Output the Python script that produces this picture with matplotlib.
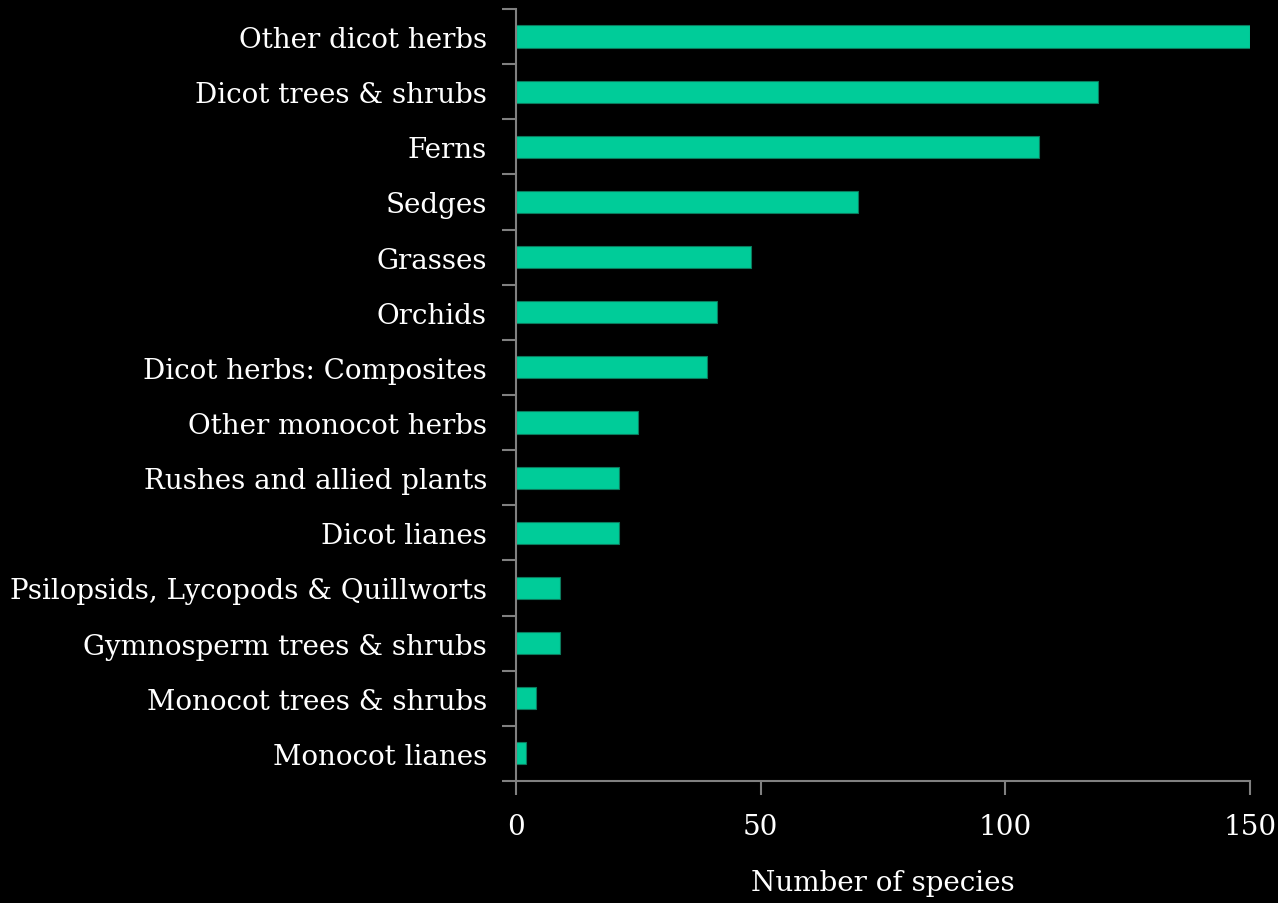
import matplotlib.pyplot as plt
import numpy as np

# datos
categorias = ["Other dicot herbs", "Dicot trees & shrubs", "Ferns", "Sedges",
              "Grasses", "Orchids", "Dicot herbs: Composites",
              "Other monocot herbs", "Rushes and allied plants", "Dicot lianes",
              "Psilopsids, Lycopods & Quillworts", "Gymnosperm trees & shrubs",
              "Monocot trees & shrubs", "Monocot lianes"]
especies = [150, 119, 107, 70, 48, 41, 39, 25, 21, 21, 9, 9, 4, 2]
ticks_x = [0, 50, 100, 150]

plt.rcParams['font.family'] = ['DejaVu Serif']

fig = plt.figure(figsize=(12.78, 9.04), dpi=100, facecolor="black")
ax = fig.add_axes([0.4038, 0.135, 0.5741, 0.854], facecolor="black")

pos = np.arange(len(categorias))[::-1]
ax.barh(pos, especies, height=0.4, color="#00CC99", edgecolor="#0B7A5C", linewidth=0.8)

ax.set_xlim(0, 150)
ax.set_ylim(-0.5, len(categorias) - 0.5)

# etiquetas del eje y sin marca, marcas en los limites de cada categoria
ax.set_yticks(pos)
ax.set_yticklabels(categorias, fontsize=20, color="white", va="center_baseline")
ax.set_yticks(np.arange(-0.5, len(categorias)), minor=True)
ax.tick_params(axis="y", which="major", length=0, pad=21)
ax.tick_params(axis="y", which="minor", length=10, width=1.5, color="#808080")

ax.set_xticks(ticks_x)
ax.set_xticklabels([str(t) for t in ticks_x], fontsize=20, color="white")
ax.tick_params(axis="x", length=10, width=1.5, color="#808080", pad=13)
ax.set_xlabel("Number of species", fontsize=20, color="white", labelpad=21)

for lado in ["top", "right"]:
    ax.spines[lado].set_visible(False)
for lado in ["left", "bottom"]:
    ax.spines[lado].set_color("#808080")
    ax.spines[lado].set_linewidth(1.5)

fig.savefig("out.png", dpi=100, facecolor="black")
